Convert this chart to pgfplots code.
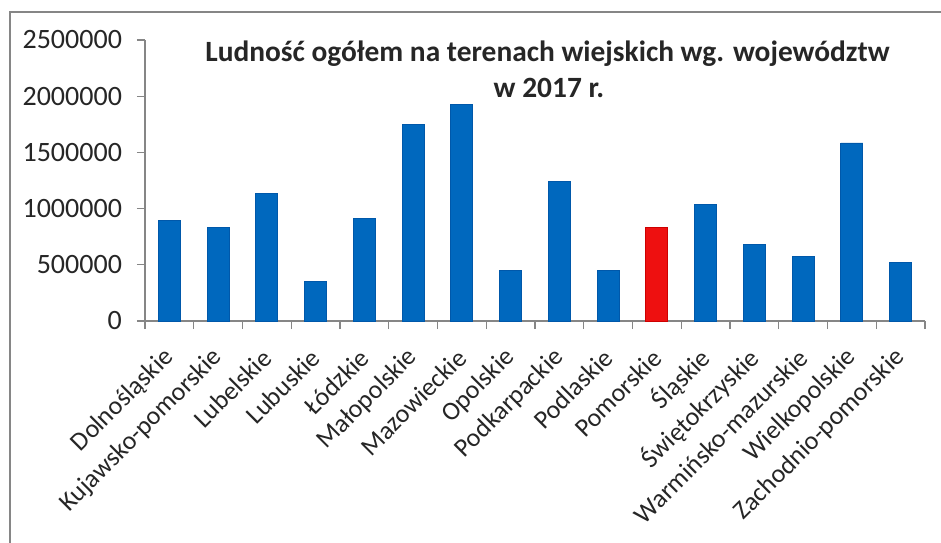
\documentclass[border=0pt]{standalone}
\usepackage{fontspec}
\setmainfont{Carlito}
\usepackage{pgfplots}
\pgfplotsset{compat=1.18}
\definecolor{barblue}{RGB}{0,104,190}
\definecolor{barbluedark}{RGB}{0,88,170}
\definecolor{barred}{RGB}{238,16,16}
\definecolor{barreddark}{RGB}{205,0,0}
\definecolor{axgray}{RGB}{134,134,134}
\begin{document}
\begin{tikzpicture}[x=1pt,y=1pt]
\useasboundingbox (-72.5,-110.5) rectangle (398,160.5);
\fill[white] (-72.5,-110.5) rectangle (398,160.5);
\draw[axgray, line width=0.9pt] (-67.5,-130) -- (-67.5,154.5) -- (420,154.5);
\begin{axis}[
  at={(0,0)}, anchor=south west,
  scale only axis, width=390pt, height=140.5pt,
  xmin=-0.5, xmax=15.5, ymin=0, ymax=2500000,
  axis lines*=left,
  axis line style={axgray, line width=0.6pt},
  tick align=outside,
  major tick length=4pt,
  tick style={axgray, line width=0.6pt},
  xtick={-0.5,0.5,...,15.5},
  xticklabels={},
  extra x ticks={0,1,...,15},
  extra x tick labels={Dolnośląskie,Kujawsko-pomorskie,Lubelskie,Lubuskie,Łódzkie,Małopolskie,Mazowieckie,Opolskie,Podkarpackie,Podlaskie,Pomorskie,Śląskie,Świętokrzyskie,Warmińsko-mazurskie,Wielkopolskie,Zachodnio-pomorskie},
  extra x tick style={major tick length=0pt, xticklabel style={rotate=45, anchor=east, font=\fontsize{13}{13}\selectfont, text=black!85, inner sep=1pt, yshift=-11.6pt, xshift=-10.3pt}},
  ytick={0,500000,1000000,1500000,2000000,2500000},
  scaled y ticks=false,
  yticklabel style={/pgf/number format/fixed, /pgf/number format/1000 sep={}, /pgf/number format/assume math mode=true, font=\fontsize{14}{14}\selectfont, text=black!85, xshift=-4pt},
  clip=false,
]
\addplot[ybar, bar width=11pt, bar shift=0pt, draw=barbluedark, line width=0.4pt, fill=barblue] coordinates {
(0,896000) (1,831000) (2,1133000) (3,353000) (4,911000) (5,1747000) (6,1925000) (7,451000)
(8,1243000) (9,451000) (11,1038000) (12,682000) (13,578000) (14,1584000) (15,520000)};
\addplot[ybar, bar width=11pt, bar shift=0pt, draw=barreddark, line width=0.4pt, fill=barred] coordinates {(10,836000)};
\end{axis}
\node[font=\bfseries\fontsize{14.7}{14}\selectfont, anchor=base, text=black!85] at (201.25,129.5) {Ludność ogółem na terenach wiejskich wg. województw};
\node[font=\bfseries\fontsize{14.7}{14}\selectfont, anchor=base, text=black!85] at (202,112) {w 2017~r.};
\end{tikzpicture}
\end{document}
